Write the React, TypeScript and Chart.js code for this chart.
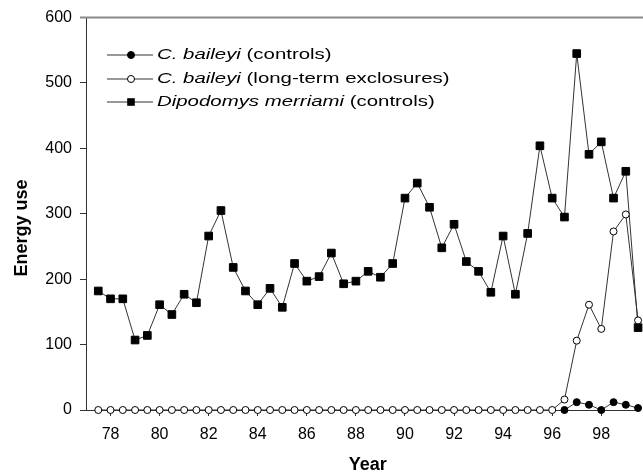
import React, { useEffect, useRef } from 'react';
import { Chart, registerables } from 'chart.js';

Chart.register(...registerables);

const FONT = '"Liberation Sans", Arial, Helvetica, sans-serif';

const years = [
  77.5, 78, 78.5, 79, 79.5, 80, 80.5, 81, 81.5, 82, 82.5, 83, 83.5, 84, 84.5,
  85, 85.5, 86, 86.5, 87, 87.5, 88, 88.5, 89, 89.5, 90, 90.5, 91, 91.5, 92,
  92.5, 93, 93.5, 94, 94.5, 95, 95.5, 96, 96.5, 97, 97.5, 98, 98.5, 99, 99.5,
];

const merriamiControls = [
  182, 170, 170, 107, 114, 161, 146, 177, 164, 266, 305, 218, 182, 161, 186,
  157, 224, 197, 204, 240, 193, 197, 212, 203, 224, 324, 347, 310, 248, 284,
  227, 212, 180, 266, 177, 270, 404, 324, 295, 545, 391, 410, 324, 365, 126,
];

const baileyiExclosures = [
  0, 0, 0, 0, 0, 0, 0, 0, 0, 0, 0, 0, 0, 0, 0,
  0, 0, 0, 0, 0, 0, 0, 0, 0, 0, 0, 0, 0, 0, 0,
  0, 0, 0, 0, 0, 0, 0, 0, 16, 106, 161, 124, 273, 299, 137,
];

const baileyiControls = [
  null, null, null, null, null, null, null, null, null, null, null, null, null, null, null,
  null, null, null, null, null, null, null, null, null, null, null, null, null, null, null,
  null, null, null, null, null, null, null, null, 0, 12, 8, 0, 12, 8, 3,
];

const xTickValues = [78, 80, 82, 84, 86, 88, 90, 92, 94, 96, 98];
const yTickValues = [0, 100, 200, 300, 400, 500, 600];

const xTitle = 'Year';
const yTitle = 'Energy use';

type Part = [string, boolean];
const legendEntries: { parts: Part[]; marker: 'filled' | 'open' | 'square' }[] = [
  { parts: [['C. baileyi', true], [' (controls)', false]], marker: 'filled' },
  { parts: [['C. baileyi', true], [' (long-term exclosures)', false]], marker: 'open' },
  { parts: [['Dipodomys merriami', true], [' (controls)', false]], marker: 'square' },
];

const toPoints = (vals: (number | null)[]) =>
  years.map((x, i) => ({ x, y: vals[i] }));

const decorPlugin = {
  id: 'decor',
  afterDraw(chart: any) {
    const ctx: CanvasRenderingContext2D = chart.ctx;
    const area = chart.chartArea;
    ctx.save();
    // top frame line
    ctx.strokeStyle = '#8a8a8a';
    ctx.lineWidth = 2;
    ctx.beginPath();
    ctx.moveTo(area.left - 6, area.top);
    ctx.lineTo(chart.width, area.top);
    ctx.stroke();

    // legend
    const rowY = [55, 79, 102];
    legendEntries.forEach((e, i) => {
      const y = rowY[i];
      ctx.strokeStyle = '#333';
      ctx.lineWidth = 1;
      ctx.beginPath();
      ctx.moveTo(107, y);
      ctx.lineTo(153, y);
      ctx.stroke();
      ctx.beginPath();
      if (e.marker === 'square') {
        ctx.fillStyle = '#000';
        ctx.fillRect(131 - 3.8, y - 3.8, 7.6, 7.6);
      } else {
        ctx.arc(131, y, 3.5, 0, Math.PI * 2);
        ctx.fillStyle = e.marker === 'filled' ? '#000' : '#fff';
        ctx.fill();
        ctx.strokeStyle = '#000';
        ctx.stroke();
      }
      ctx.save();
      ctx.translate(157, y);
      ctx.scale(1.36, 1);
      ctx.fillStyle = '#000';
      ctx.textBaseline = 'middle';
      ctx.textAlign = 'left';
      let cx = 0;
      for (const [t, it] of e.parts) {
        ctx.font = `${it ? 'italic ' : ''}15px ${FONT}`;
        ctx.fillText(t, cx, 0);
        cx += ctx.measureText(t).width;
      }
      ctx.restore();
    });

    // axis titles
    ctx.fillStyle = '#000';
    ctx.font = `bold 18px ${FONT}`;
    ctx.textAlign = 'center';
    ctx.textBaseline = 'alphabetic';
    ctx.fillText(xTitle, 367.7, 470);
    ctx.save();
    ctx.translate(27, 228);
    ctx.rotate(-Math.PI / 2);
    ctx.fillText(yTitle, 0, 0);
    ctx.restore();
    ctx.restore();
  },
};

export default function App() {
  const ref = useRef<HTMLCanvasElement | null>(null);
  useEffect(() => {
    if (!ref.current) return;
    const chart = new Chart(ref.current, {
      type: 'line',
      data: {
        datasets: [
          {
            label: 'C. baileyi (long-term exclosures)',
            data: toPoints(baileyiExclosures),
            borderColor: '#333',
            borderWidth: 1,
            pointStyle: 'circle',
            pointRadius: 3.5,
            pointBackgroundColor: '#fff',
            pointBorderColor: '#000',
            pointBorderWidth: 1,
            order: 0,
            clip: false,
          },
          {
            label: 'C. baileyi (controls)',
            data: toPoints(baileyiControls),
            borderColor: '#333',
            borderWidth: 1,
            pointStyle: 'circle',
            pointRadius: 3.5,
            pointBackgroundColor: '#000',
            pointBorderColor: '#000',
            pointBorderWidth: 1,
            order: 1,
            clip: false,
          },
          {
            label: 'Dipodomys merriami (controls)',
            data: toPoints(merriamiControls),
            borderColor: '#333',
            borderWidth: 1,
            pointStyle: 'rect',
            pointRadius: 5.4,
            pointBackgroundColor: '#000',
            pointBorderColor: '#000',
            pointBorderWidth: 1,
            order: 2,
            clip: false,
          },
        ] as any,
      },
      options: {
        animation: false,
        responsive: false,
        devicePixelRatio: 1,
        layout: { padding: { top: 16, left: 0, right: 0, bottom: 0 } },
        plugins: {
          legend: { display: false },
          tooltip: { enabled: false },
        },
        elements: { line: { tension: 0 } },
        scales: {
          x: {
            type: 'linear',
            min: 77,
            max: 99.44,
            afterBuildTicks: (s: any) => {
              s.ticks = xTickValues.map((v) => ({ value: v }));
            },
            afterFit: (s: any) => {
              s.height = 66;
            },
            ticks: {
              color: '#000',
              font: { family: FONT, size: 16 },
              padding: 9,
              maxRotation: 0,
              autoSkip: false,
              callback: (v: any) => String(v),
            },
            grid: {
              drawOnChartArea: false,
              drawTicks: true,
              tickLength: 6,
              color: '#333',
            },
            border: { color: '#333', width: 1 },
          },
          y: {
            type: 'linear',
            min: 0,
            max: 600,
            afterBuildTicks: (s: any) => {
              s.ticks = yTickValues.map((v) => ({ value: v }));
            },
            afterFit: (s: any) => {
              s.width = 86;
            },
            ticks: {
              color: '#000',
              font: { family: FONT, size: 16 },
              padding: 8,
              callback: (v: any) => String(v),
            },
            grid: {
              drawOnChartArea: false,
              drawTicks: true,
              tickLength: 6,
              color: '#333',
            },
            border: { color: '#333', width: 1 },
          },
        },
      } as any,
      plugins: [decorPlugin],
    });
    return () => chart.destroy();
  }, []);
  return (
    <div style={{ position: 'absolute', left: 0, top: 0, width: 643, height: 476, background: '#fff' }}>
      <canvas ref={ref} width={643} height={476} style={{ display: 'block' }} />
    </div>
  );
}
